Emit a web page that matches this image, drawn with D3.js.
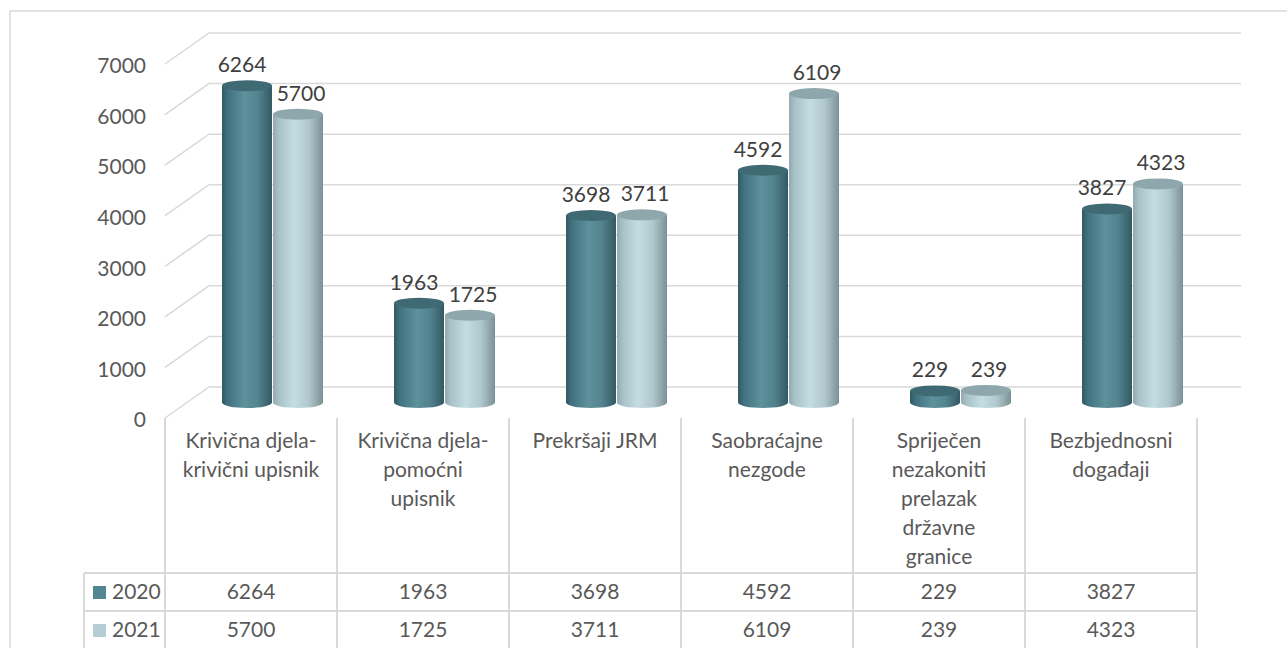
<!DOCTYPE html>
<html><head><meta charset="utf-8">
<script src="https://cdn.jsdelivr.net/npm/d3@7"></script>
<style>body{margin:0;background:#fff}svg{display:block}</style>
</head><body>
<svg id="c" width="1287" height="648"></svg>
<script>
const categories = ["Krivična djela-\nkrivični upisnik","Krivična djela-\npomoćni\nupisnik","Prekršaji JRM","Saobraćajne\nnezgode","Spriječen\nnezakoniti\nprelazak\ndržavne\ngranice","Bezbjednosni\ndogađaji"];
const seriesNames = ["2020","2021"];
const values2020 = [6264,1963,3698,4592,229,3827];
const values2021 = [5700,1725,3711,6109,239,4323];
const yTicks = [0,1000,2000,3000,4000,5000,6000,7000];

const svg = d3.select("#c");
const FONT = "Lato, 'Noto Sans', sans-serif";
const FS = 21;
const grid = "#d9d9d9";
const DX = 44, DY = -31;

const x = d3.scaleBand().domain(categories).range([165,1197]);
const xs = d3.scaleBand().domain(seriesNames).range([0,102]);
const y = d3.scaleLinear().domain([0,7000]).range([418,64]);

// outer border
svg.append("rect").attr("x",10).attr("y",11).attr("width",1300).attr("height",700)
  .attr("fill","none").attr("stroke",grid).attr("stroke-width",1.5);

// gradients
const defs = svg.append("defs");
function grad(id, stops){
  const g = defs.append("linearGradient").attr("id",id).attr("x1","0%").attr("x2","100%").attr("y1","0%").attr("y2","0%");
  stops.forEach(s=>g.append("stop").attr("offset",s[0]).attr("stop-color",s[1]));
}
grad("g2020",[["0%","#30596300"],["0%","#305963"],["12%","#427280"],["45%","#5e919c"],["72%","#52838e"],["100%","#335962"]]);
grad("g2021",[["0%","#93abb0"],["12%","#a9c2c7"],["42%","#c4dde2"],["72%","#b0c8cd"],["100%","#7b9095"]]);
const topColor = {"2020":"#3f6a74","2021":"#8ea7ac"};
const swatch = {"2020":"#548692","2021":"#b6ced3"};
const labelShift = {"2020":-5,"2021":3};

// back wall gridlines with floor/side diagonal
const gl = svg.append("g");
yTicks.forEach(t=>{
  const yf = y(t);
  gl.append("path").attr("d",`M165,${yf}L${165+DX},${yf+DY}L1241,${yf+DY}`)
    .attr("fill","none").attr("stroke",grid).attr("stroke-width",1.5);
});

// tick labels
svg.append("g").selectAll("text").data(yTicks).join("text")
  .attr("x",146).attr("y",d=>y(d)+2).attr("dy","0.35em").attr("text-anchor","end")
  .attr("font-family",FONT).attr("font-size",FS).attr("fill","#595959").text(d=>d);

// cylinders
const series = [{name:"2020",vals:values2020},{name:"2021",vals:values2021}];
const RY = 5.5;
const bars = svg.append("g");
categories.forEach((c,i)=>{
  series.forEach(s=>{
    const v = s.vals[i];
    const x0 = x(c) + x.bandwidth()/2 - 51 + DX/2 + xs(s.name);
    const w = xs.bandwidth() - 1;
    const cx = x0 + w/2;
    const yb = y(0) + DY/2, yt = y(v) + DY/2;
    const g = bars.append("g");
    g.append("path")
      .attr("d",`M${x0},${yt}L${x0},${yb}A${w/2},${RY} 0 0 0 ${x0+w},${yb}L${x0+w},${yt}Z`)
      .attr("fill",`url(#g${s.name})`);
    g.append("ellipse").attr("cx",cx).attr("cy",yt).attr("rx",w/2).attr("ry",RY)
      .attr("fill",topColor[s.name]);
    svg.append("text").attr("x",cx+labelShift[s.name]).attr("y",yt-21).attr("dy","0.35em").attr("text-anchor","middle")
      .attr("font-family",FONT).attr("font-size",FS).attr("fill","#404040").text(v);
  });
});

// data table
const tb = svg.append("g");
const colEdges = categories.map(c=>x(c)).concat([x.range()[1]]);
colEdges.forEach(e=>{
  tb.append("line").attr("x1",e).attr("x2",e).attr("y1",418).attr("y2",650)
    .attr("stroke",grid).attr("stroke-width",2);
});
tb.append("line").attr("x1",84).attr("x2",84).attr("y1",573).attr("y2",650).attr("stroke",grid).attr("stroke-width",2);
[573,611].forEach(yy=>{
  tb.append("line").attr("x1",84).attr("x2",1198).attr("y1",yy).attr("y2",yy).attr("stroke",grid).attr("stroke-width",2);
});
// category headers
categories.forEach(c=>{
  const lines = c.split("\n");
  lines.forEach((ln,k)=>{
    tb.append("text").attr("x",x(c)+x.bandwidth()/2).attr("y",441+k*29).attr("dy","0.35em")
      .attr("text-anchor","middle").attr("font-family",FONT).attr("font-size",FS).attr("fill","#595959").text(ln);
  });
});
// rows
const rowY = [592,630];
series.forEach((s,r)=>{
  tb.append("rect").attr("x",93).attr("y",rowY[r]-6).attr("width",13).attr("height",13).attr("fill",swatch[s.name]);
  tb.append("text").attr("x",112).attr("y",rowY[r]).attr("dy","0.35em").attr("font-family",FONT)
    .attr("font-size",FS).attr("fill","#595959").text(s.name);
  categories.forEach((c,i)=>{
    tb.append("text").attr("x",x(c)+x.bandwidth()/2).attr("y",rowY[r]).attr("dy","0.35em")
      .attr("text-anchor","middle").attr("font-family",FONT).attr("font-size",FS).attr("fill","#595959").text(s.vals[i]);
  });
});
</script>
</body></html>
